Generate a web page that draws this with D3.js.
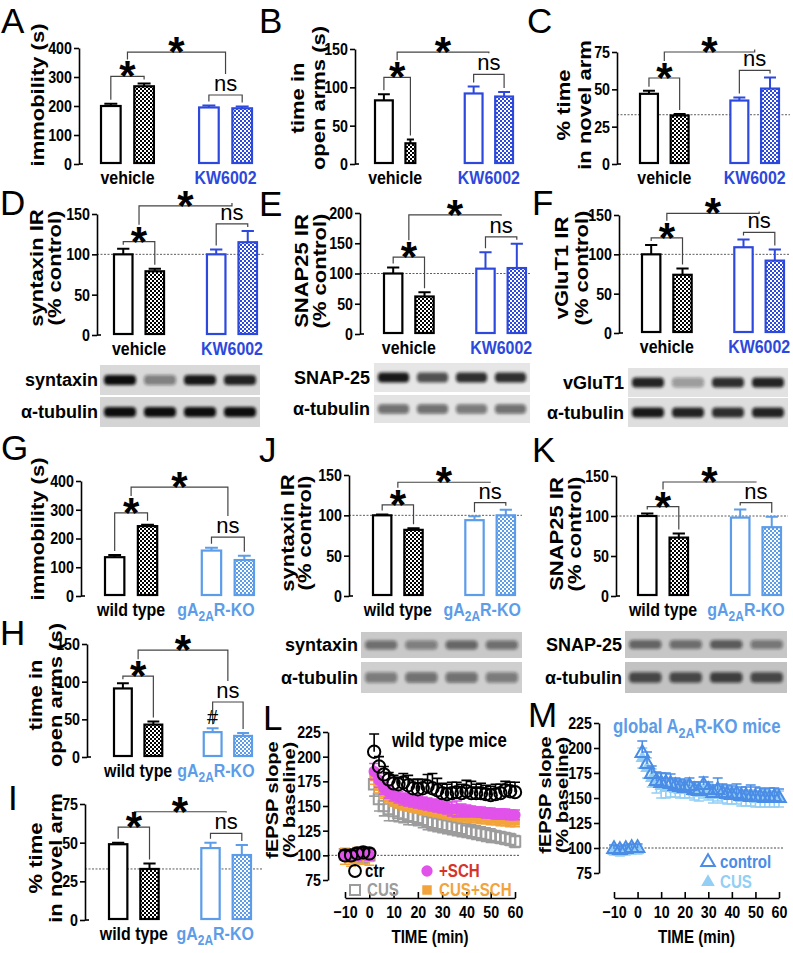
<!DOCTYPE html>
<html>
<head>
<meta charset="utf-8">
<script src="https://cdn.jsdelivr.net/npm/d3@7"></script>
<style>
  body { margin: 0; background: #fff; }
  svg { display: block; font-family: "Liberation Sans", Arial, sans-serif; }
  .axis path, .axis line { stroke: #000; stroke-width: 1.6; }
  .axis text { font-weight: bold; font-size: 17px; fill: #000; }
</style>
</head>
<body>
<svg id="fig" width="793" height="953"></svg>
<script>
// ---- data ----
const vehGroups = ['vehicle', 'KW6002'];
const koGroups = ['wild type', 'gA2AR-KO'];

// bars: control, CUS, control, CUS
const immobilityA = [200, 268, 195, 192];
const immobilityAErr = [8, 10, 7, 6];
const openArmsB = [83, 27, 92, 88];
const openArmsBErr = [8, 5, 9, 6];
const novelArmC = [47, 32.5, 42.5, 50.5];
const novelArmCErr = [2, 1, 2, 7.5];
const syntaxinD = [100, 79, 100, 115];
const syntaxinDErr = [7, 3, 6, 14];
const snap25E = [100, 62, 108, 109];
const snap25EErr = [10, 7, 27, 40];
const vglut1F = [100, 74, 109, 92];
const vglut1FErr = [12, 8, 10, 14];
const immobilityG = [135, 243, 158, 125];
const immobilityGErr = [8, 5, 10, 15];
const openArmsH = [91, 43, 33, 28];
const openArmsHErr = [7, 4, 5, 4];
const novelArmI = [49, 33, 46.5, 42];
const novelArmIErr = [1, 3.5, 3.5, 6.5];
const syntaxinJ = [100, 82, 94, 100];
const syntaxinJErr = [1, 2, 5, 7];
const snap25K = [100, 73, 98, 86];
const snap25KErr = [3, 5, 10, 13];

// western blot band strength per lane
const bandsD = [[1.0, 0.45, 0.95, 0.9], [1, 1, 1, 1]];
const bandsE = [[0.95, 0.7, 0.85, 0.85], [0.55, 0.55, 0.5, 0.55]];
const bandsF = [[0.9, 0.35, 0.85, 0.9], [0.95, 0.9, 0.85, 0.9]];
const bandsJ = [[0.5, 0.42, 0.55, 0.5], [0.45, 0.5, 0.5, 0.45]];
const bandsK = [[0.55, 0.5, 0.6, 0.45], [0.7, 0.7, 0.75, 0.7]];

// LTP time course (min)
const tBase = [-10, -7.5, -5, -2.5, 0];
const tPost = [2, 4, 6, 8, 10, 12, 14, 16, 18, 20, 22, 24, 26, 28, 30, 32, 34, 36, 38, 40, 42, 44, 46, 48, 50, 52, 54, 56, 58, 60];
const ltpTime = tBase.concat(tPost);
const ctrL = [100, 100, 102, 103, 102, 205, 190, 182, 177, 173, 172, 174, 171, 168, 167, 168, 170, 168, 166, 163, 162, 163, 164, 163, 165, 163, 163, 163, 162, 161, 162, 163, 166, 165, 164];
const ctrLErr = [5, 5, 5, 5, 5, 18, 10, 8, 7, 8, 7, 9, 10, 9, 10, 9, 12, 15, 12, 10, 10, 11, 10, 9, 11, 12, 9, 10, 9, 9, 10, 9, 9, 9, 10];
const cusL = [101, 99, 100, 98, 100, 172, 157, 150, 147, 145, 143, 142, 140, 139, 138, 136, 134, 133, 132, 131, 130, 129, 128, 127, 125, 124, 123, 122, 121, 120, 119, 118, 117, 116, 114];
const cusLErr = [6, 6, 6, 6, 6, 12, 12, 10, 12, 10, 9, 9, 9, 8, 8, 8, 8, 8, 8, 8, 8, 8, 8, 8, 7, 7, 7, 7, 7, 7, 6, 6, 6, 6, 6];
const schL = [100, 99, 100, 101, 100, 185, 176, 168, 164, 161, 159, 157, 156, 155, 154, 153, 152, 151, 150, 149, 148, 147, 147, 146, 145, 145, 144, 144, 143, 143, 142, 142, 142, 141, 141];
const schLErr = [5, 5, 5, 5, 5, 8, 7, 6, 6, 6, 6, 6, 6, 6, 6, 6, 6, 6, 6, 6, 6, 7, 8, 6, 6, 5, 5, 5, 5, 5, 5, 5, 5, 5, 5];
const cusSchL = [99, 97, 100, 99, 98, 180, 170, 164, 159, 156, 154, 152, 151, 150, 149, 148, 147, 146, 145, 144, 143, 142, 141, 140, 140, 139, 139, 138, 138, 137, 137, 136, 136, 135, 135];
const cusSchLErr = [8, 8, 8, 8, 8, 8, 7, 6, 6, 6, 6, 6, 6, 6, 6, 6, 6, 6, 6, 6, 6, 6, 6, 6, 6, 6, 6, 6, 6, 6, 6, 6, 6, 6, 6];
const ctrM = [99, 98, 99, 100, 100, 195, 184, 174, 167, 165, 165, 164, 162, 161, 160, 162, 158, 157, 163, 158, 155, 158, 155, 154, 153, 154, 152, 152, 151, 151, 151, 150, 150, 151, 150];
const ctrMErr = [4, 4, 4, 4, 4, 12, 12, 8, 9, 10, 10, 10, 8, 8, 8, 8, 8, 9, 8, 8, 8, 12, 9, 9, 9, 10, 9, 9, 12, 10, 9, 9, 10, 9, 9];
const cusM = [97, 96, 97, 98, 98, 190, 180, 170, 165, 162, 160, 160, 159, 158, 158, 158, 156, 155, 158, 156, 153, 155, 153, 152, 152, 152, 150, 150, 150, 149, 149, 149, 149, 149, 149];
const cusMErr = [4, 4, 4, 4, 4, 10, 10, 9, 10, 12, 10, 9, 8, 8, 8, 8, 8, 8, 8, 8, 8, 8, 8, 8, 8, 8, 8, 8, 8, 8, 8, 8, 8, 8, 8];

// ---- colours ----
const BLACK = '#000';
const BLUE = '#2c48dd';
const LBLUE = '#5c9ce8';
const PALE = '#93cff5';
const NARROW = 0.84; // horizontal squeeze for the condensed look of the labels

const svg = d3.select('#fig');
const defs = svg.append('defs');

// checker patterns for the CUS bars
function checker(id, color) {
  const p = defs.append('pattern').attr('id', id).attr('patternUnits', 'userSpaceOnUse')
    .attr('width', 4).attr('height', 4);
  p.append('rect').attr('width', 4).attr('height', 4).attr('fill', '#fff');
  p.append('rect').attr('width', 2).attr('height', 2).attr('fill', color);
  p.append('rect').attr('x', 2).attr('y', 2).attr('width', 2).attr('height', 2).attr('fill', color);
}
checker('chkBlack', BLACK);
checker('chkBlue', BLUE);
checker('chkLight', LBLUE);
defs.append('filter').attr('id', 'blur').attr('x', '-20%').attr('y', '-50%').attr('width', '140%').attr('height', '200%')
  .append('feGaussianBlur').attr('stdDeviation', 1.6);

// bold condensed-looking text
function ntext(parent, x, y, size, anchor, fill) {
  return parent.append('text').attr('transform', `translate(${x},${y}) scale(${NARROW},1)`)
    .attr('text-anchor', anchor || 'start').attr('font-weight', 'bold').attr('font-size', size)
    .attr('fill', fill || '#000');
}
function squeezeTicks(sel) {
  sel.selectAll('.tick text').attr('transform', `scale(${NARROW},1)`)
    .attr('x', function () { return (+d3.select(this).attr('x') || 0) / NARROW; });
}

function letter(t, x, y) {
  svg.append('text').attr('x', x).attr('y', y).attr('font-size', 35).text(t);
}

// rotated y label, lines given with their own x centre
function yLabel(lines, xs, cy, size) {
  lines.forEach((t, i) => {
    svg.append('text')
      .attr('transform', `translate(${xs[i]},${cy}) scale(0.82,1) rotate(-90)`)
      .attr('text-anchor', 'middle').attr('dy', '0.35em')
      .attr('font-weight', 'bold').attr('font-size', size || 22).text(t);
  });
}

function koText(sel, pre, post) {
  sel.append('tspan').text(pre + 'A');
  sel.append('tspan').attr('dy', 5).attr('font-size', '75%').text('2A');
  sel.append('tspan').attr('dy', -5).text(post);
}

function barPanel(p) {
  const g = svg.append('g');
  const y = d3.scaleLinear().domain([0, p.max]).range([p.y0, p.yTop]);
  const outer = d3.scaleBand().domain(p.groups).range([p.x0, p.x1]).paddingInner(0.44);
  const inner = d3.scaleBand().domain([0, 1]).range([0, outer.bandwidth()]).paddingInner(0.35);
  const bw = inner.bandwidth();
  const bars = p.values.map((v, i) => ({
    v, e: p.errs[i], grp: p.groups[i < 2 ? 0 : 1], cond: i % 2,
    col: i < 2 ? BLACK : p.koColor,
    w: bw * (p.widthScale ? p.widthScale[i] : 1)
  }));
  bars.forEach(b => { b.x = outer(b.grp) + inner(b.cond); b.cx = b.x + b.w / 2; });

  // reference line
  if (p.ref != null) {
    g.append('line').attr('x1', p.ax).attr('x2', p.refEnd).attr('y1', y(p.ref)).attr('y2', y(p.ref))
      .attr('stroke', '#333').attr('stroke-width', 0.8).attr('stroke-dasharray', '2,1.5');
  }

  // error bars
  g.selectAll('.err').data(bars).join('path')
    .attr('d', b => `M${b.cx},${y(b.v)}V${y(b.v + b.e)}M${b.cx - b.w * 0.3},${y(b.v + b.e)}H${b.cx + b.w * 0.3}`)
    .attr('stroke', b => b.col).attr('stroke-width', 2).attr('fill', 'none');
  // bars
  g.selectAll('.bar').data(bars).join('rect')
    .attr('x', b => b.x + 1).attr('width', b => b.w - 2)
    .attr('y', b => y(b.v)).attr('height', b => y(0) - y(b.v) - 1)
    .attr('fill', b => b.cond === 0 ? '#fff' : `url(#${b.col === BLACK ? 'chkBlack' : p.koPattern})`)
    .attr('stroke', b => b.col).attr('stroke-width', 2.2);

  // axis
  const ax = g.append('g').attr('class', 'axis').attr('transform', `translate(${p.ax},0)`)
    .call(d3.axisLeft(y).tickValues(p.ticks).tickSize(5).tickSizeOuter(0).tickPadding(2));
  squeezeTicks(ax);
  ax.append('line').attr('x1', 0).attr('x2', 4).attr('y1', y(0)).attr('y2', y(0)).attr('stroke', '#000').attr('stroke-width', 1.6);

  // group labels
  ntext(g, (bars[0].x + bars[1].x + bars[1].w) / 2, p.y0 + 20, 19, 'middle').text(p.groups[0]);
  const t2 = ntext(g, (bars[2].x + bars[3].x + bars[3].w) / 2 + (p.koShift || 0), p.y0 + 20, 19, 'middle', p.koColor);
  if (p.groups[1] === 'gA2AR-KO') koText(t2, 'g', 'R-KO'); else t2.text(p.groups[1]);

  // significance brackets; levels [outer, inner, ns] are in axis units
  const dropEnd = i => y(bars[i].v + bars[i].e) - 4;
  const innerY = Math.min(y(p.brk[1]), Math.min(dropEnd(0), dropEnd(1)) - 3);
  const nsY = Math.min(y(p.brk[2]), Math.min(dropEnd(2), dropEnd(3)) - 3);
  const outerY = Math.min(y(p.brk[0]), innerY - 10, nsY - 18);
  const mi = (bars[0].cx + bars[1].cx) / 2;
  const mn = (bars[2].cx + bars[3].cx) / 2;
  const br = g.append('g').attr('fill', 'none').attr('stroke', '#444').attr('stroke-width', 1.2);
  br.append('path').attr('d', `M${bars[0].cx},${dropEnd(0)}V${innerY}H${bars[1].cx}V${dropEnd(1)}`);
  br.append('path').attr('d', `M${bars[2].cx},${dropEnd(2)}V${nsY}H${bars[3].cx}V${dropEnd(3)}`);
  br.append('path').attr('d', `M${mi},${Math.max(innerY - 17, outerY)}V${outerY}H${mn}V${nsY - 21}`);
  const star = (x, yb) => g.append('text').attr('x', x).attr('y', yb + 14).attr('text-anchor', 'middle')
    .attr('font-weight', 'bold').attr('font-size', 42).text('*');
  star(mi, innerY);
  star((mi + mn) / 2, outerY);
  g.append('text').attr('x', mn).attr('y', nsY - 4).attr('text-anchor', 'middle').attr('font-size', 22).text('ns');
  if (p.hash) {
    g.append('text').attr('x', bars[2].cx).attr('y', y(bars[2].v + bars[2].e) - 4).attr('text-anchor', 'middle')
      .attr('font-size', 20).text('#');
  }

  letter(p.letter, p.lx, p.ly);
  yLabel(p.label, p.labelX, p.labelY);
}

function blot(b) {
  const g = svg.append('g');
  b.rows.forEach((r, k) => {
    g.append('rect').attr('x', b.x0).attr('y', r.y0).attr('width', b.x1 - b.x0).attr('height', r.y1 - r.y0).attr('fill', b.bg[k]);
    const lane = (b.x1 - b.x0) / 4;
    const h = (r.y1 - r.y0);
    g.selectAll(null).data(b.bands[k]).join('rect')
      .attr('x', (d, i) => b.x0 + lane * i + lane * 0.1).attr('width', lane * 0.8)
      .attr('y', r.y0 + h * 0.33).attr('height', h * 0.34).attr('rx', 4)
      .attr('fill', '#111').attr('fill-opacity', d => d).attr('filter', 'url(#blur)');
    g.append('text').attr('x', b.lx).attr('y', (r.y0 + r.y1) / 2 + 6).attr('text-anchor', 'end')
      .attr('font-weight', 'bold').attr('font-size', 18).text(r.label);
  });
}

// ---- bar panels ----
barPanel({ letter: 'A', lx: 1, ly: 33, ax: 79, y0: 164, yTop: 48, max: 400, ticks: [0, 100, 200, 300, 400],
  x0: 100, x1: 253, groups: vehGroups, values: immobilityA, errs: immobilityAErr, koColor: BLUE, koPattern: 'chkBlue',
  brk: [386, 300, 238], label: ['immobility (s)'], labelX: [38], labelY: 95 });
barPanel({ letter: 'B', lx: 259, ly: 33, ax: 355, y0: 164, yTop: 49, max: 150, ticks: [0, 50, 100, 150],
  x0: 374, x1: 514, groups: vehGroups, values: openArmsB, errs: openArmsBErr, koColor: BLUE, koPattern: 'chkBlue',
  brk: [146, 113, 117], widthScale: [1, 0.6, 1, 1], label: ['time in', 'open arms (s)'], labelX: [298, 319], labelY: 98 });
barPanel({ letter: 'C', lx: 527, ly: 33, ax: 617, y0: 164, yTop: 52, max: 75, ticks: [0, 25, 50, 75],
  x0: 639, x1: 780, groups: vehGroups, values: novelArmC, errs: novelArmCErr, koColor: BLUE, koPattern: 'chkBlue',
  brk: [75, 57.6, 61.6], ref: 33, refEnd: 790, label: ['% time', 'in novel arm'], labelX: [564, 585], labelY: 105 });
barPanel({ letter: 'D', lx: 0, ly: 215, ax: 97, y0: 335, yTop: 214, max: 150, ticks: [0, 50, 100, 150],
  x0: 113, x1: 258, groups: vehGroups, values: syntaxinD, errs: syntaxinDErr, koColor: BLUE, koPattern: 'chkBlue',
  brk: [152, 114, 130], ref: 100, refEnd: 264, label: ['syntaxin IR', '(% control)'], labelX: [37, 55], labelY: 268 });
barPanel({ letter: 'E', lx: 259, ly: 216, ax: 360, y0: 334, yTop: 213, max: 200, ticks: [0, 50, 100, 150, 200],
  x0: 383, x1: 527, groups: vehGroups, values: snap25E, errs: snap25EErr, koColor: BLUE, koPattern: 'chkBlue',
  brk: [197, 127, 159], ref: 100, refEnd: 530, label: ['SNAP25 IR', '(% control)'], labelX: [302, 320], labelY: 271 });
barPanel({ letter: 'F', lx: 532, ly: 215, ax: 619, y0: 333, yTop: 215, max: 150, ticks: [0, 50, 100, 150],
  x0: 641, x1: 785, groups: vehGroups, values: vglut1F, errs: vglut1FErr, koColor: BLUE, koPattern: 'chkBlue',
  brk: [152, 121, 127], ref: 100, refEnd: 790, label: ['vGluT1 IR', '(% control)'], labelX: [562, 582], labelY: 268 });
barPanel({ letter: 'G', lx: 1, ly: 460, ax: 81, y0: 596, yTop: 481, max: 400, ticks: [0, 100, 200, 300, 400],
  x0: 104, x1: 255, groups: koGroups, values: immobilityG, errs: immobilityGErr, koColor: LBLUE, koPattern: 'chkLight',
  brk: [379, 289, 205], koShift: -12, label: ['immobility (s)'], labelX: [38], labelY: 529 });
barPanel({ letter: 'H', lx: 0, ly: 645, ax: 87, y0: 757, yTop: 644, max: 150, ticks: [0, 50, 100, 150],
  x0: 113, x1: 253, groups: koGroups, values: openArmsH, errs: openArmsHErr, koColor: LBLUE, koPattern: 'chkLight',
  brk: [142, 106, 73], koShift: -12, hash: true, label: ['time in', 'open arms (s)'], labelX: [36, 56], labelY: 695 });
barPanel({ letter: 'I', lx: 8, ly: 810, ax: 85, y0: 920, yTop: 804, max: 75, ticks: [0, 25, 50, 75],
  x0: 108, x1: 252, groups: koGroups, values: novelArmI, errs: novelArmIErr, koColor: LBLUE, koPattern: 'chkLight',
  brk: [70, 60, 56], koShift: -11, ref: 33, refEnd: 262, label: ['% time', 'in novel arm'], labelX: [36, 56], labelY: 858 });
barPanel({ letter: 'J', lx: 259, ly: 462, ax: 349, y0: 596, yTop: 475, max: 150, ticks: [0, 50, 100, 150],
  x0: 372, x1: 516, groups: koGroups, values: syntaxinJ, errs: syntaxinJErr, koColor: LBLUE, koPattern: 'chkLight',
  brk: [141, 113, 115], koShift: -8, ref: 100, refEnd: 522, label: ['syntaxin IR', '(% control)'], labelX: [288, 305], labelY: 533 });
barPanel({ letter: 'K', lx: 532, ly: 462, ax: 616, y0: 596, yTop: 476, max: 150, ticks: [0, 50, 100, 150],
  x0: 637, x1: 782, groups: koGroups, values: snap25K, errs: snap25KErr, koColor: LBLUE, koPattern: 'chkLight',
  brk: [142.5, 111, 116], koShift: -10, ref: 100, refEnd: 788, label: ['SNAP25 IR', '(% control)'], labelX: [557, 575], labelY: 534 });

// ---- western blots ----
blot({ x0: 100, x1: 260, lx: 98, bg: ['#d9d9d9', '#d4d4d4'], bands: bandsD,
  rows: [{ y0: 365, y1: 395, label: 'syntaxin' }, { y0: 397, y1: 427, label: 'α-tubulin' }] });
blot({ x0: 374, x1: 530, lx: 370, bg: ['#e6e6e6', '#e3e3e3'], bands: bandsE,
  rows: [{ y0: 363, y1: 392, label: 'SNAP-25' }, { y0: 395, y1: 423, label: 'α-tubulin' }] });
blot({ x0: 628, x1: 788, lx: 624, bg: ['#e2e2e2', '#dedede'], bands: bandsF,
  rows: [{ y0: 368, y1: 397, label: 'vGluT1' }, { y0: 398, y1: 427, label: 'α-tubulin' }] });
blot({ x0: 361, x1: 522, lx: 358, bg: ['#c9c9c9', '#cfcfcf'], bands: bandsJ,
  rows: [{ y0: 632, y1: 658, label: 'syntaxin' }, { y0: 662, y1: 693, label: 'α-tubulin' }] });
blot({ x0: 625, x1: 787, lx: 622, bg: ['#c6c6c6', '#c2c2c2'], bands: bandsK,
  rows: [{ y0: 631, y1: 658, label: 'SNAP-25' }, { y0: 662, y1: 693, label: 'α-tubulin' }] });

// ---- LTP panels ----
function ltpPanel(p) {
  const g = svg.append('g');
  const x = d3.scaleLinear().domain([-10, 60]).range([p.xl, p.xr]);
  const y = d3.scaleLinear().domain([75, 225]).range([p.yb, p.yt]);
  g.append('line').attr('x1', p.ax).attr('x2', x(60) + 4).attr('y1', y(100)).attr('y2', y(100))
    .attr('stroke', '#333').attr('stroke-width', 0.9).attr('stroke-dasharray', '2,1.5');
  const ya = g.append('g').attr('class', 'axis').attr('transform', `translate(${p.ax},0)`)
    .call(d3.axisLeft(y).tickValues([75, 100, 125, 150, 175, 200, 225]).tickSize(5).tickSizeOuter(0).tickPadding(2));
  squeezeTicks(ya);
  const xa = g.append('g').attr('class', 'axis').attr('transform', `translate(0,${p.xAxisY})`)
    .call(d3.axisBottom(x).tickValues([-10, 0, 10, 20, 30, 40, 50, 60]).tickSize(-6).tickSizeOuter(0).tickPadding(8));
  squeezeTicks(xa);
  ntext(g, x(25), p.xAxisY + 45, 18, 'middle').text('TIME (min)');

  p.series.forEach(s => {
    const pts = ltpTime.map((t, i) => ({ t, v: s.values[i], e: s.errs[i] }));
    const sg = g.append('g');
    sg.selectAll('path.eb').data(pts).join('path')
      .attr('d', d => {
        const cx = x(d.t), hi = y(d.v + d.e), lo = y(d.v - d.e), c = 5;
        let str = '';
        if (s.dir !== 'down') str += `M${cx},${y(d.v)}V${hi}M${cx - c},${hi}H${cx + c}`;
        if (s.dir !== 'up') str += `M${cx},${y(d.v)}V${lo}M${cx - c},${lo}H${cx + c}`;
        return str;
      })
      .attr('stroke', s.color).attr('stroke-width', 1.6).attr('fill', 'none');
    sg.selectAll('path.mk').data(pts).join('path')
      .attr('transform', d => `translate(${x(d.t)},${y(d.v)})`)
      .attr('d', d3.symbol().type(s.symbol).size(s.size))
      .attr('fill', s.filled ? s.color : 'none')
      .attr('stroke', s.filled ? 'none' : s.color).attr('stroke-width', 2);
  });

  p.legend.forEach(l => {
    g.append('path').attr('transform', `translate(${l.x},${l.y})`)
      .attr('d', d3.symbol().type(l.symbol).size(l.size))
      .attr('fill', l.filled ? l.color : 'none').attr('stroke', l.filled ? 'none' : l.color).attr('stroke-width', 2);
    ntext(g, l.x + l.dx, l.y + 6, 18, 'start', l.textColor || l.color).text(l.text);
  });

  letter(p.letter, p.lx, p.ly);
  yLabel(['fEPSP slope', '(% baseline)'], p.labelX, p.labelY, 20);
}

ltpPanel({ letter: 'L', lx: 263, ly: 730, ax: 328, xl: 345, xr: 515, yb: 880, yt: 732, xAxisY: 898,
  labelX: [272, 289], labelY: 800,
  series: [
    { values: cusL, errs: cusLErr, color: '#9c9c9c', symbol: d3.symbolSquare, size: 110, filled: false, dir: 'both' },
    { values: cusSchL, errs: cusSchLErr, color: '#f2a33a', symbol: d3.symbolSquare, size: 95, filled: true, dir: 'both' },
    { values: schL, errs: schLErr, color: '#e052ea', symbol: d3.symbolCircle, size: 100, filled: true, dir: 'both' },
    { values: ctrL, errs: ctrLErr, color: '#000', symbol: d3.symbolCircle, size: 120, filled: false, dir: 'up' }
  ],
  legend: [
    { x: 355, y: 871, symbol: d3.symbolCircle, size: 110, color: '#000', filled: false, dx: 10, text: 'ctr' },
    { x: 355, y: 890, symbol: d3.symbolSquare, size: 100, color: '#9c9c9c', filled: false, dx: 12, text: 'CUS' },
    { x: 427, y: 871, symbol: d3.symbolCircle, size: 100, color: '#e052ea', textColor: '#d7332a', filled: true, dx: 12, text: '+SCH' },
    { x: 427, y: 890, symbol: d3.symbolSquare, size: 90, color: '#f2a33a', filled: true, dx: 12, text: 'CUS+SCH' }
  ] });
ntext(svg, 392, 747, 20).text('wild type mice');

ltpPanel({ letter: 'M', lx: 528, ly: 727, ax: 599, xl: 614, xr: 779, yb: 873, yt: 723, xAxisY: 898,
  labelX: [545, 562], labelY: 795,
  series: [
    { values: cusM, errs: cusMErr, color: PALE, symbol: d3.symbolTriangle, size: 80, filled: true, dir: 'both' },
    { values: ctrM, errs: ctrMErr, color: '#4a8ce6', symbol: d3.symbolTriangle, size: 80, filled: false, dir: 'up' }
  ],
  legend: [
    { x: 708, y: 862, symbol: d3.symbolTriangle, size: 80, color: '#4a8ce6', filled: false, dx: 12, text: 'control' },
    { x: 708, y: 882, symbol: d3.symbolTriangle, size: 80, color: PALE, filled: true, dx: 12, text: 'CUS' }
  ] });
koText(ntext(svg, 613, 733, 20, 'start', LBLUE), 'global ', 'R-KO mice');
</script>
</body>
</html>
